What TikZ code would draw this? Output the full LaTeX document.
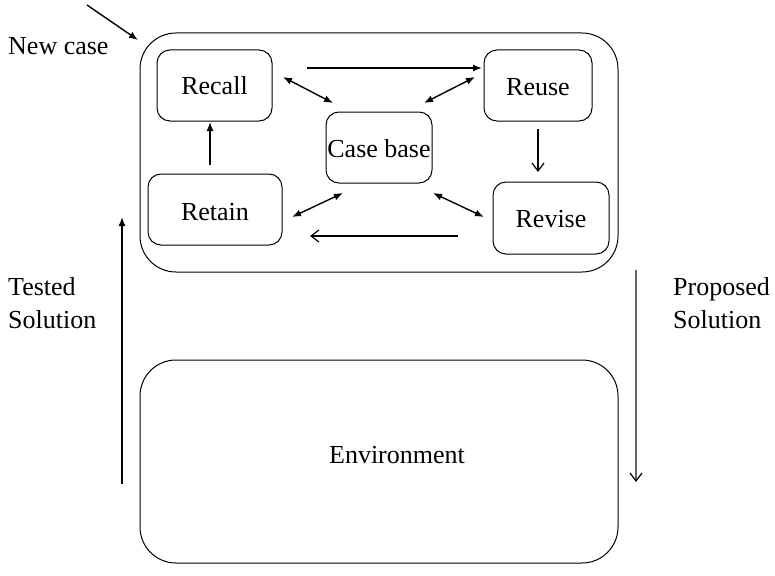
\documentclass[tikz,border=0pt]{standalone}
\usepackage{fontspec}
\setmainfont{Liberation Serif}
\usetikzlibrary{arrows.meta}
\begin{document}
\begin{tikzpicture}[x=1pt,y=-1pt,
  every node/.style={font=\fontsize{26}{33}\selectfont, inner sep=0pt},
  panel/.style={draw, line width=1pt, rounded corners=36pt},
  stage/.style={draw, line width=1pt, rounded corners=13pt},
  solid tip/.style={-{Latex[length=9pt,width=7pt]}, line width=1.4pt},
  both tips/.style={{Latex[length=9pt,width=7pt]}-{Latex[length=9pt,width=7pt]}, line width=1.4pt},
  open tip/.style={-{Straight Barb[length=8pt,width=12pt,line width=1.2pt]}, line width=1.2pt}]
\useasboundingbox (0,0) rectangle (775,575);

% outer panels
\draw[panel] (140,33) rectangle (618,272);
\draw[panel] (140,360) rectangle (618,563);
\node (env) at (397,455) {Environment};

% stage boxes
\draw[stage] (157,50) rectangle (272,121);
\node (recall) at (214.5,86) {Recall};
\draw[stage] (484,50) rectangle (592,121);
\node (reuse) at (538,87) {Reuse};
\draw[stage] (326,112) rectangle (432,183);
\node (cb) at (379,149) {Case base};
\draw[stage] (493,182) rectangle (609,254);
\node (revise) at (551,219) {Revise};
\draw[stage] (148,174) rectangle (282,245);
\node (retain) at (215,212) {Retain};

% connector end points
\coordinate (a1) at (307,68);  \coordinate (a2) at (482,68);
\coordinate (b1) at (283,77);  \coordinate (b2) at (333,103);
\coordinate (c1) at (475,77);  \coordinate (c2) at (424,103);
\coordinate (d1) at (343,193); \coordinate (d2) at (292,217);
\coordinate (e1) at (433,193); \coordinate (e2) at (484,217);
\coordinate (f1) at (458,236); \coordinate (f2) at (310,236);
\coordinate (g1) at (538,129); \coordinate (g2) at (538,172);
\coordinate (h1) at (210,165); \coordinate (h2) at (210,122);
\coordinate (n1) at (87,5);    \coordinate (n2) at (138,40);
\coordinate (t1) at (122,484); \coordinate (t2) at (122,217);
\coordinate (p1) at (636,270); \coordinate (p2) at (636,482);

\draw[solid tip] (a1) -- (a2);
\draw[both tips] (b1) -- (b2);
\draw[both tips] (c1) -- (c2);
\draw[both tips] (d1) -- (d2);
\draw[both tips] (e1) -- (e2);
\draw[open tip] (f1) -- (f2);
\draw[open tip] (g1) -- (g2);
\draw[solid tip] (h1) -- (h2);
\draw[solid tip] (n1) -- (n2);
\draw[solid tip] (t1) -- (t2);
\draw[-{Straight Barb[length=8pt,width=12pt,line width=1.2pt,color=black]},
      line width=1.2pt, draw=black!60] (p1) -- (p2);

% side labels
\node[anchor=west] (newcase) at (8,46) {New case};
\node[anchor=west, align=left] (tested) at (8,303) {Tested\\Solution};
\node[anchor=west, align=left] (proposed) at (673,303) {Proposed\\Solution};
\end{tikzpicture}
\end{document}
